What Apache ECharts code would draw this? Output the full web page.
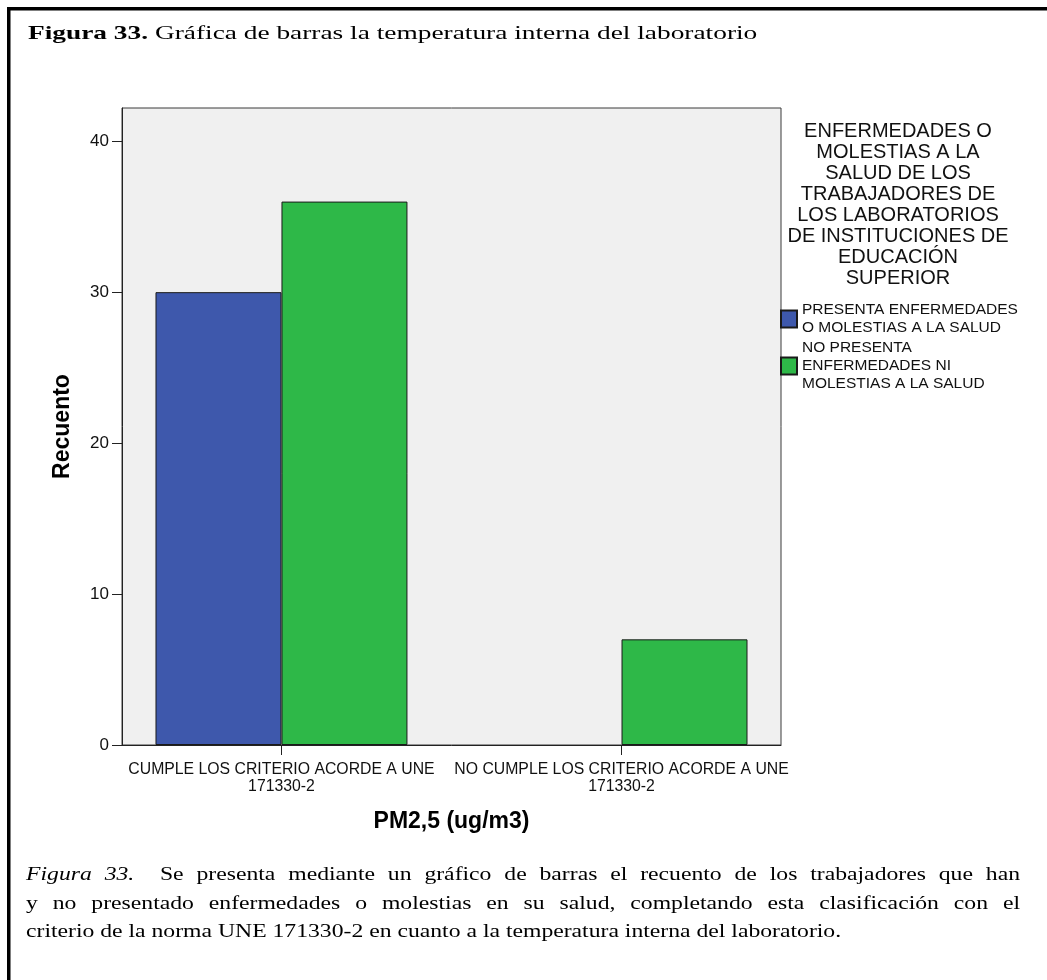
<!DOCTYPE html>
<html>
<head>
<meta charset="utf-8">
<script src="https://cdn.jsdelivr.net/npm/echarts@6/dist/echarts.min.js"></script>
<style>
  html, body { margin: 0; padding: 0; background: #ffffff; }
  #chart { width: 1047px; height: 980px; }
</style>
</head>
<body>
<div id="chart"></div>
<script>
// Category labels along the x axis (PM2,5 compliance with UNE 171330-2)
const categories = [
  'CUMPLE LOS CRITERIO ACORDE A UNE\n171330-2',
  'NO CUMPLE LOS CRITERIO ACORDE A UNE\n171330-2'
];

// Series names and their wrapped legend text
const seriesNames = [
  'PRESENTA ENFERMEDADES O MOLESTIAS A LA SALUD',
  'NO PRESENTA ENFERMEDADES NI MOLESTIAS A LA SALUD'
];
const legendLabels = [
  'PRESENTA ENFERMEDADES\nO MOLESTIAS A LA SALUD',
  'NO PRESENTA\nENFERMEDADES NI\nMOLESTIAS A LA SALUD'
];
const legendTitle = 'ENFERMEDADES O\nMOLESTIAS A LA\nSALUD DE LOS\nTRABAJADORES DE\nLOS LABORATORIOS\nDE INSTITUCIONES DE\nEDUCACIÓN\nSUPERIOR';

// Counts per category (null = no bar)
const presentaValues = [30, null];
const noPresentaValues = [36, 7];

// Y axis ticks
const yTicks = [0, 10, 20, 30, 40];
const yMax = 42.2;

// Figure heading and caption
const headingBold = 'Figura 33.';
const headingText = ' Gráfica de barras la temperatura interna del laboratorio';
const captionItalic = 'Figura 33.';
const captionLines = [
  'Figura 33.  Se presenta mediante un gráfico de barras el recuento de los trabajadores que han',
  'y no presentado enfermedades o molestias en su salud, completando esta clasificación con el',
  'criterio de la norma UNE 171330-2 en cuanto a la temperatura interna del laboratorio.'
];

const colors = ['#3e58ac', '#2eb848'];

const sans = "'Liberation Sans', Arial, sans-serif";
const serif = "'Liberation Serif', 'Times New Roman', serif";

// bars sit at integer positions 0..n-1 on a value axis so outer padding can differ from spacing
function toPoints(values) {
  const out = [];
  values.forEach(function (v, i) { if (v !== null) out.push([i, v]); });
  return out;
}
const edgePad = 0.469;

// --- caption: justified word layout (last line left aligned) ---
const capFont = 19;
const capScale = 1.246;
const capLeft = 26;
const capRight = 1020;
const capTop = 875;
const capLineH = 28.7;
const measureCtx = document.createElement('canvas').getContext('2d');
function textWidth(t, italic) {
  measureCtx.font = (italic ? 'italic ' : '') + capFont + 'px ' + serif;
  return measureCtx.measureText(t).width * capScale;
}
const captionGraphics = [];
captionLines.forEach(function (line, li) {
  const tokens = line.split(' ');
  const italicCount = li === 0 ? captionItalic.split(' ').length : 0;
  const widths = tokens.map(function (t, k) { return t ? textWidth(t, k < italicCount) : 0; });
  const used = widths.reduce(function (a, b) { return a + b; }, 0);
  const spaces = tokens.length - 1;
  const last = li === captionLines.length - 1;
  const gap = last ? textWidth(' ', false) : (capRight - capLeft - used) / spaces;
  let x = capLeft;
  tokens.forEach(function (t, k) {
    if (t) {
      captionGraphics.push({
        type: 'text',
        x: x, y: capTop + li * capLineH,
        scaleX: capScale,
        silent: true,
        style: {
          text: t, fill: '#000', fontFamily: serif, fontSize: capFont,
          fontStyle: k < italicCount ? 'italic' : 'normal',
          verticalAlign: 'middle'
        }
      });
    }
    x += widths[k] + gap;
  });
});

const chart = echarts.init(document.getElementById('chart'), null, { renderer: 'canvas' });

chart.setOption({
  animation: false,
  backgroundColor: '#ffffff',
  grid: {
    left: 122, right: 266, top: 108, bottom: 235,
    show: true,
    backgroundColor: '#f0f0f0',
    borderColor: '#3a3a3a',
    borderWidth: 1
  },
  legend: {
    orient: 'vertical',
    left: 780,
    top: 301,
    padding: 0,
    itemWidth: 16,
    itemHeight: 17,
    itemGap: 2,
    icon: 'rect',
    selectedMode: false,
    formatter: function (name) { return legendLabels[seriesNames.indexOf(name)]; },
    textStyle: { fontFamily: sans, fontSize: 15.5, lineHeight: 18, color: '#111' }
  },
  xAxis: {
    type: 'value',
    min: -edgePad,
    max: categories.length - 1 + edgePad,
    name: 'PM2,5 (ug/m3)',
    nameLocation: 'middle',
    nameGap: 65,
    nameTextStyle: { fontFamily: sans, fontSize: 23, fontWeight: 'bold', color: '#000' },
    axisLine: { show: true, onZero: false, lineStyle: { color: '#222', width: 1 } },
    axisTick: { show: true, length: 10, inside: false, customValues: categories.map(function (c, i) { return i; }), lineStyle: { color: '#222' } },
    axisLabel: {
      customValues: categories.map(function (c, i) { return i; }),
      formatter: function (v) { return categories[Math.round(v)]; },
      fontFamily: sans, fontSize: 15.8, lineHeight: 17, color: '#111', margin: 16
    },
    splitLine: { show: false }
  },
  yAxis: {
    type: 'value',
    min: 0,
    max: yMax,
    interval: 10,
    name: 'Recuento',
    nameLocation: 'middle',
    nameGap: 48,
    nameRotate: 90,
    nameTextStyle: { fontFamily: sans, fontSize: 23, fontWeight: 'bold', color: '#000' },
    axisLine: { show: true, onZero: false, lineStyle: { color: '#222', width: 1 } },
    axisTick: { show: true, length: 10, inside: false, customValues: yTicks, lineStyle: { color: '#222' } },
    axisLabel: { customValues: yTicks, fontFamily: sans, fontSize: 17, color: '#111', margin: 13 },
    splitLine: { show: false }
  },
  series: [
    {
      name: seriesNames[0],
      type: 'bar',
      data: toPoints(presentaValues),
      barGap: '0%',
      barCategoryGap: '25.9%',
      itemStyle: { color: colors[0], borderColor: '#1a1a1a', borderWidth: 1 }
    },
    {
      name: seriesNames[1],
      type: 'bar',
      data: toPoints(noPresentaValues),
      barGap: '0%',
      barCategoryGap: '25.9%',
      itemStyle: { color: colors[1], borderColor: '#1a1a1a', borderWidth: 1 }
    }
  ],
  graphic: [
    {
      type: 'polyline',
      silent: true,
      shape: { points: [[8.75, 980], [8.75, 8.75], [1047, 8.75]] },
      style: { stroke: '#000', lineWidth: 3.5, fill: null }
    },
    {
      type: 'text',
      x: 28, y: 34,
      scaleX: 1.44,
      silent: true,
      style: {
        text: '{b|' + headingBold + '}' + headingText,
        fontFamily: serif, fontSize: 19, fill: '#000', verticalAlign: 'middle',
        rich: { b: { fontFamily: serif, fontSize: 19, fontWeight: 'bold', fill: '#000' } }
      }
    },
    {
      type: 'text',
      x: 898, y: 120.5,
      silent: true,
      style: {
        text: legendTitle,
        fontFamily: sans, fontSize: 20, lineHeight: 21, fill: '#111',
        align: 'center', verticalAlign: 'top'
      }
    }
  ].concat(captionGraphics)
});
</script>
</body>
</html>
